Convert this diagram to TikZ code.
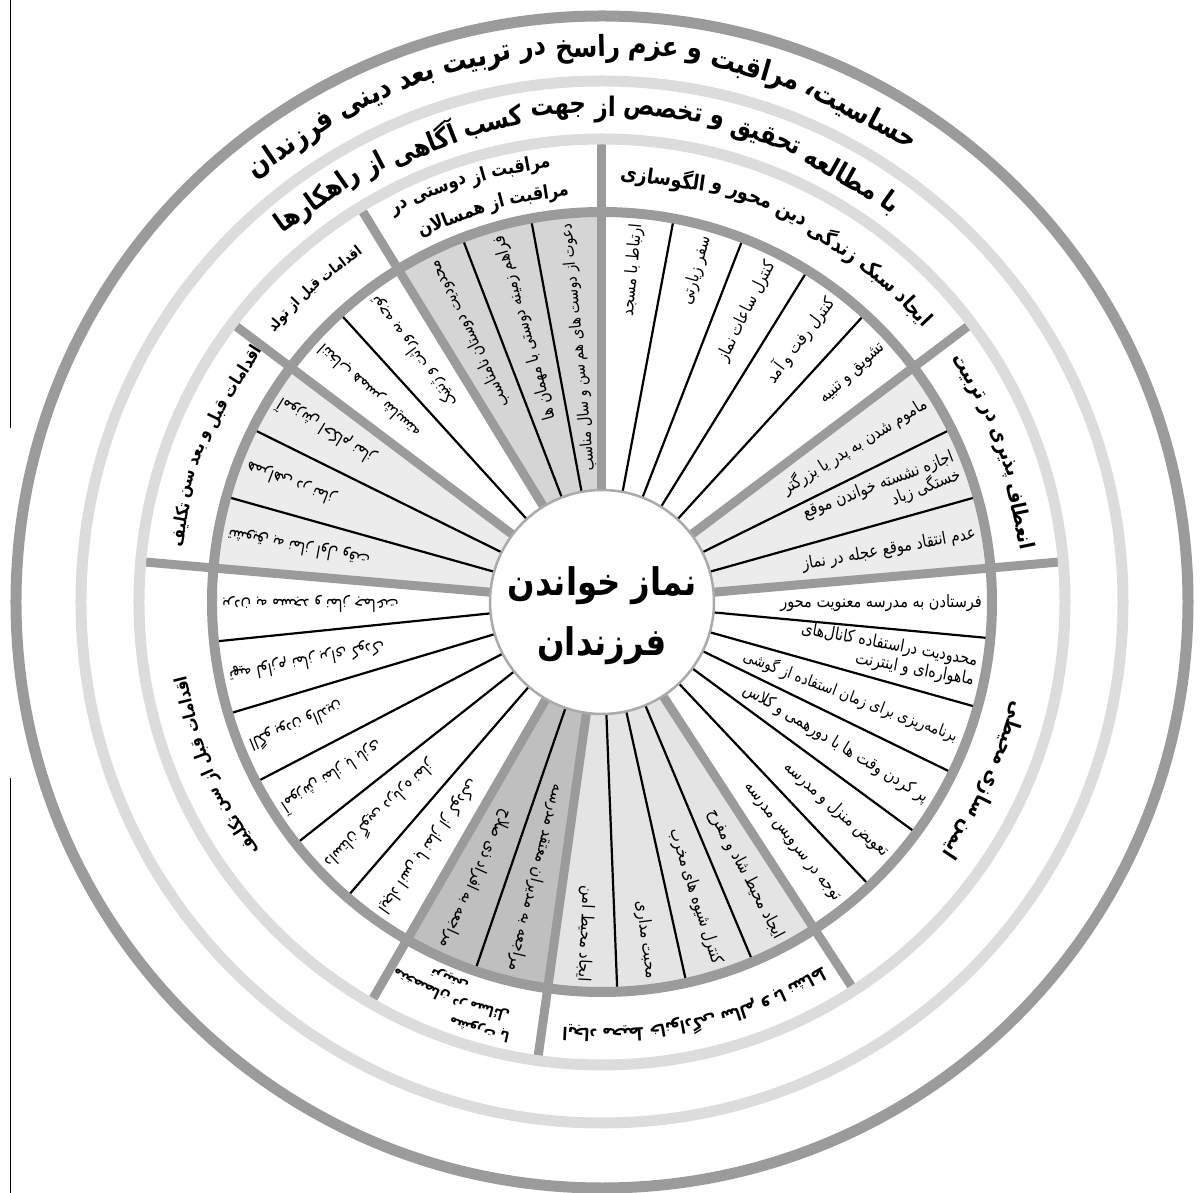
\documentclass[tikz,border=0pt]{standalone}
\usepackage{fontspec}
\newfontfamily\fa[Script=Arabic,FakeStretch=0.85]{DejaVu Sans}
\TeXXeTstate=1
\definecolor{ringdark}{HTML}{9B9B9B}
\definecolor{ringlight}{HTML}{DCDCDC}
\definecolor{fillA}{HTML}{ECECEC}
\definecolor{fillB}{HTML}{D5D5D5}
\definecolor{fillC}{HTML}{BFBFBF}
\definecolor{fillD}{HTML}{E4E4E4}
\newcommand\R[1]{\beginR#1\endR}
\newdimen\arcw
\newbox\arcbox
\newbox\arcspbox
% #1 radius, #2 mid angle, #3 font, #4 words in reading order
\newcommand\arctext[4]{%
  \global\arcw=0pt
  \foreach \w in {#4}{%
    \setbox\arcbox=\hbox{\pgfinterruptpicture#3\w\ \endpgfinterruptpicture}%
    \global\advance\arcw by \wd\arcbox
  }%
  \setbox\arcspbox=\hbox{\pgfinterruptpicture#3\ \endpgfinterruptpicture}%
  \global\advance\arcw by -\wd\arcspbox
  \pgfmathsetmacro\arcstart{#2 - \the\arcw/(#1)*90/pi}%
  \global\let\arccur\arcstart
  \foreach \w in {#4}{%
    \setbox\arcbox=\hbox{\pgfinterruptpicture#3\w\endpgfinterruptpicture}%
    \setbox\arcspbox=\hbox{\pgfinterruptpicture#3\ \endpgfinterruptpicture}%
    \edef\arcwd{\the\wd\arcbox}\edef\arcsp{\the\wd\arcspbox}%
    \pgfmathsetmacro\arcang{\arccur + \arcwd/(#1)*90/pi}%
    \pgfmathsetmacro\arcrot{\arcang-90}%
    \pgfmathsetmacro\arcnext{\arccur + (\arcwd+\arcsp)/(#1)*180/pi}%
    \global\let\arccur\arcnext
    \node[rotate=\arcrot,inner sep=0pt] at (\arcang:#1) {#3\w};
  }%
}
\newcommand\fitem{\fa\fontsize{17}{19.5}\selectfont}
\newcommand\fitems{\fa\fontsize{16}{19}\selectfont}
\newcommand\fcenter{\fa\bfseries\fontsize{38}{60}\selectfont}
\newcommand\fouter{\fa\bfseries\fontsize{29}{34}\selectfont}
\newcommand\fsecond{\fa\bfseries\fontsize{27}{32}\selectfont}
\newcommand\flab{\fa\bfseries\fontsize{21}{25}\selectfont}
\newcommand\flabm{\fa\bfseries\fontsize{19}{23}\selectfont}
\newcommand\flabs{\fa\bfseries\fontsize{17.5}{21}\selectfont}
\newcommand\flabt{\fa\bfseries\fontsize{14.5}{17}\selectfont}
\begin{document}
\begin{tikzpicture}[x=1pt,y=1pt,
  spoke/.style={draw=ringdark,line width=9pt},
  divider/.style={draw=black,line width=2.2pt},
  itemtext/.style={font=\fitem,inner sep=0pt,anchor=east,align=right},
]
\useasboundingbox (-602,-591) rectangle (600,602);
\newcommand\wedgefill[3]{\fill[#3] (0,0) -- (#1:390) arc[start angle=#1,end angle=#2,radius=390] -- cycle;}
\newcommand\itm[4][]{\node[itemtext,rotate=#3,#1] (#2) at (#3:380) {#4};}
% page edge line
\draw[black,line width=0.8pt] (-592,602) -- (-592,174);
\draw[black,line width=0.8pt] (-592,-176) -- (-592,-591);
% shaded sectors
\wedgefill{5}{37}{fillA}
\wedgefill{90}{121.5}{fillB}
\wedgefill{143}{175}{fillA}
\wedgefill{240}{262}{fillC}
\wedgefill{262}{303}{fillD}
% item dividers
\foreach \a in {15.67,26.33,47.6,58.2,68.8,79.4,100.5,111,132.25,153.67,164.33,185.83,196.67,207.5,218.33,229.17,251,272.25,282.5,292.75,313.33,323.67,334,344.33,354.67}
  \draw[divider] (\a:110) -- (\a:390);
% spokes
\foreach \a in {5,37,90,121.5,143,175,240,262,303}
  \draw[spoke] (\a:110) -- (\a:463);
% rings
\draw[ringdark,line width=11pt] (0,0) circle[radius=586];
\draw[ringlight,line width=11pt] (0,0) circle[radius=521];
\draw[ringlight,line width=11pt] (0,0) circle[radius=463];
\draw[ringdark,line width=10pt] (0,0) circle[radius=390];
% centre
\node[circle,draw=ringdark!85,line width=2.5pt,fill=white,minimum size=224pt,inner sep=0pt] (hub) at (0,0) {};
\node[font=\fcenter,align=center,inner sep=0pt] (hubtext) at (0,-14) {\R{نماز خواندن}\\\R{فرزندان}};
% outer bands
\arctext{553}{92.5}{\fouter}{حساسیت،,مراقبت,و,عزم,راسخ,در,تربیت,بعد,دینی,فرزندان}
\arctext{492}{92}{\fsecond}{با,مطالعه,تحقیق,و,تخصص,از,جهت,کسب,آگاهی,از,راهکارها}
% sector labels
\arctext{428}{21}{\flab}{انعطاف,پذیری,در,تربیت}
\arctext{428}{64}{\flab}{ایجاد,سبک,زندگی,دین,محور,و,الگوسازی}
\arctext{442}{107.5}{\flabm}{مراقبت,از,دوستی,در}
\arctext{412}{105.5}{\flabm}{مراقبت,از,همسالان}
\arctext{428}{132.5}{\flabt}{اقدامات,قبل,از,تولد}
\arctext{428}{158}{\flabs}{اقدامات,قبل,و,بعد,سن,تکلیف}
\arctext{428}{203}{\flabs}{اقدامات,قبل,از,سن,تکلیف}
\arctext{444}{254}{\flabt}{مشورت,با}
\arctext{424}{249}{\flabt}{متخصصان,در,مسائل}
\arctext{405}{248}{\flabt}{تربیتی}
\arctext{432}{283}{\flabs}{ایجاد,محیط,خانوادگی,سالم,و,با,نشاط}
\arctext{428}{335}{\flab}{ایمن,سازی,محیطی}
% items
\itm{s1a}{31.67}{\R{ماموم شدن به پدر یا بزرگتر}}
\itm{s1b}{21}{\R{اجازه نشسته خواندن موقع}\\\R{خستگی زیاد}}
\itm{s1c}{10.33}{\R{عدم انتقاد موقع عجله در نماز}}
\itm{s2a}{84.7}{\R{ارتباط با مسجد}}
\itm{s2b}{74.1}{\R{سفر زیارتی}}
\itm{s2c}{63.5}{\R{کنترل ساعات نماز}}
\itm{s2d}{52.9}{\R{کنترل رفت و آمد}}
\itm{s2e}{42.3}{\R{تشویق و تنبیه}}
\itm[font=\fitems]{s3a}{95.25}{\R{دعوت از دوست های هم سن و سال مناسب}}
\itm{s3b}{105.75}{\R{فراهم زمینه دوستی با مهمان ها}}
\itm{s3c}{116.25}{\R{محدودیت دوستان نامناسب}}
\itm{s4a}{126.9}{\R{توجه به وراثت و ژنتیک}}
\itm{s4b}{137.6}{\R{انتخاب همسر شایسته}}
\itm{s5a}{148.3}{\R{آموزش احکام نماز}}
\itm{s5b}{159}{\R{همراهی در نماز}}
\itm{s5c}{169.7}{\R{تشویق به نماز اول وقت}}
\itm{s6a}{180.4}{\R{بردن به مسجد و نماز جماعت}}
\itm{s6b}{191.25}{\R{تهیه لوازم نماز برای کودک}}
\itm{s6c}{202.1}{\R{الگو بودن والدین}}
\itm{s6d}{212.9}{\R{آموزش نماز با بازی}}
\itm{s6e}{223.75}{\R{داستان گویی درباره نماز}}
\itm{s6f}{234.6}{\R{ایجاد انس با نماز از کودکی}}
\itm{s7a}{245.5}{\R{مراجعه به افراد ذی صلاح}}
\itm{s7b}{256.5}{\R{مراجعه به مدیران معتقد مدرسه}}
\itm{s8a}{267.1}{\R{ایجاد محیط امن}}
\itm{s8b}{277.4}{\R{محبت مداری}}
\itm{s8c}{287.6}{\R{کنترل شیوه های مخرب}}
\itm{s8d}{297.9}{\R{ایجاد محیط شاد و مفرح}}
\itm{s9a}{359.8}{\R{فرستادن به مدرسه معنویت محور}}
\itm{s9b}{349.5}{\R{محدودیت دراستفاده کانال‌های}\\\R{ماهواره‌ای و اینترنت}}
\itm[font=\fitems]{s9c}{339.2}{\R{برنامه‌ریزی برای زمان استفاده از گوشی}}
\itm{s9d}{328.8}{\R{پر کردن وقت ها با دورهمی و کلاس}}
\itm{s9e}{318.5}{\R{تعویض منزل و مدرسه}}
\itm{s9f}{308.2}{\R{توجه در سرویس مدرسه}}
\end{tikzpicture}
\end{document}
